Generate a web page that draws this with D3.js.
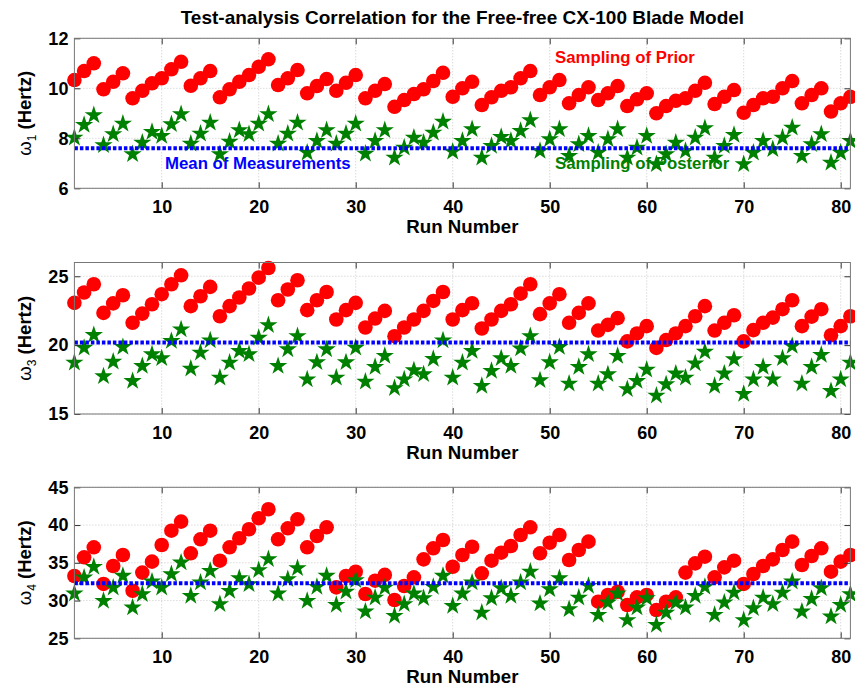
<!DOCTYPE html>
<html>
<head>
<meta charset="utf-8">
<script src="https://cdn.jsdelivr.net/npm/d3@7"></script>
<style>
  html, body { margin: 0; padding: 0; background: #fff; }
  svg { display: block; font-family: "Liberation Sans", Arial, sans-serif; }
</style>
</head>
<body>
<svg id="chart" width="855" height="689"></svg>
<script>
// Run numbers of the 81-run sampling study
const runs = d3.range(1, 82);

// First natural frequency (Hz)
const prior1 = [10.33,10.69,11.0, 9.96,10.26,10.6, 9.6,9.9,10.2, 10.4,10.76,11.06, 10.1,10.4,10.69, 9.64,9.96,10.26, 10.53,10.86,11.16, 10.13,10.4,10.73, 9.8,10.09,10.37, 9.9,10.22,10.53, 9.6,9.9,10.17, 9.26,9.53,9.77, 9.96,10.29,10.62, 9.66,10.0,10.26, 9.33,9.64,9.9, 10.04,10.4,10.69, 9.73,10.04,10.33, 9.4,9.73,10.04, 9.53,9.8,10.09, 9.29,9.56,9.8, 9.0,9.29,9.5, 9.6,9.9,10.22, 9.37,9.66,9.93, 9.02,9.33,9.6, 9.66,10.0,10.29, 9.4,9.73,10.0, 9.07,9.4,9.66];
const post1 = [8.06,8.57,8.96, 7.76,8.2,8.62, 7.4,7.86,8.29, 8.13,8.6,9.0, 7.82,8.22,8.66, 7.4,7.9,8.36, 8.2,8.62,9.0, 7.82,8.22,8.66, 7.46,7.93,8.36, 7.82,8.22,8.62, 7.42,7.93,8.36, 7.26,7.66,8.06, 7.86,8.26,8.7, 7.5,7.93,8.4, 7.26,7.73,8.09, 7.93,8.33,8.76, 7.53,8.0,8.4, 7.33,7.8,8.13, 7.46,8.0,8.4, 7.26,7.66,8.13, 7.0,7.4,7.86, 7.53,8.06,8.44, 7.26,7.73,8.17, 7.0,7.46,7.93, 7.6,8.06,8.46, 7.33,7.8,8.2, 7.06,7.46,7.93];
const mean1 = 7.6;

// Third natural frequency (Hz)
const prior3 = [23.07,23.82,24.42, 22.34,23.03,23.62, 21.62,22.29,22.97, 23.7,24.42,25.07, 22.83,23.55,24.23, 22.1,22.83,23.46, 24.11,24.9,25.6, 23.26,24.04,24.71, 22.54,23.26,23.86, 21.86,22.54,23.07, 21.28,21.93,22.49, 20.65,21.28,21.86, 22.49,23.21,23.86, 21.86,22.54,23.04, 21.21,21.86,22.49, 22.97,23.74,24.42, 22.25,23.03,23.7, 21.62,22.34,23.03, 21.06,21.47,21.96, 20.27,20.85,21.38, 19.8,20.37,20.85, 21.38,22.1,22.83, 21.06,21.62,22.17, 20.27,21.09,21.62, 22.0,22.61,23.26, 21.38,22.07,22.61, 20.72,21.38,22.1];
const post3 = [18.79,19.87,20.8, 17.8,18.86,19.93, 17.46,18.55,19.4, 19.11,20.36,21.21, 18.36,19.52,20.41, 17.7,18.79,19.64, 19.4,20.6,21.52, 18.55,19.76,20.72, 17.58,18.82,19.76, 17.7,18.82,19.87, 17.41,18.48,19.28, 16.94,17.58,18.24, 17.95,19.06,20.41, 17.7,18.79,19.64, 17.1,18.19,19.11, 18.55,19.82,20.72, 17.51,18.82,19.93, 17.27,18.48,19.4, 17.27,17.95,19.28, 16.87,17.46,18.28, 16.4,17.22,18.0, 17.7,18.74,19.58, 17.1,18.0,19.04, 16.52,17.58,18.48, 17.58,19.11,20.0, 17.27,18.48,19.35, 16.73,17.58,18.79];
const mean3 = 20.2;

// Fourth natural frequency (Hz)
const prior4 = [33.25,35.73,37.05, 32.2,34.58,36.03, 31.3,33.7,35.15, 37.36,39.25,40.45, 36.26,38.11,39.25, 35.28,37.05,38.25, 39.44,40.9,42.09, 38.11,39.57,40.76, 37.05,38.55,39.7, 31.75,33.25,33.82, 30.87,32.63,33.4, 30.07,31.93,33.08, 35.46,36.92,38.02, 34.48,36.03,37.13, 33.61,35.28,36.34, 37.23,38.68,39.7, 36.26,37.66,38.68, 35.37,36.7,37.8, 29.85,30.74,31.17, 29.41,30.43,30.74, 28.75,29.85,30.43, 33.7,34.93,35.81, 33.08,34.4,35.28, 32.2,33.52,34.58, 35.46,36.7,37.8, 34.71,35.9,36.92, 33.82,35.15,36.03];
const post4 = [31.04,33.16,34.58, 30.07,31.83,33.4, 29.19,30.96,32.63, 31.83,33.61,35.15, 30.74,32.5,34.05, 29.64,31.4,33.08, 32.28,34.14,35.6, 31.04,32.95,34.4, 30.07,31.93,33.4, 29.54,31.3,32.81, 28.66,30.51,31.83, 28.09,29.64,31.04, 30.43,31.93,33.4, 29.41,31.04,32.5, 28.52,30.43,31.75, 30.74,32.5,33.95, 29.72,31.62,33.08, 28.97,30.51,32.06, 28.22,29.85,31.04, 27.52,29.19,30.43, 26.9,28.52,29.85, 29.19,30.74,31.93, 28.22,29.85,31.17, 27.52,29.1,30.51, 29.64,31.17,32.63, 28.66,30.33,31.75, 28.0,29.54,30.96];
const mean4 = 32.3;

// Axis ticks
const xTicks = [10, 20, 30, 40, 50, 60, 70, 80];
const yTicks1 = [6, 8, 10, 12];
const yTicks3 = [15, 20, 25];
const yTicks4 = [25, 30, 35, 40, 45];

const titleText = "Test-analysis Correlation for the Free-free CX-100 Blade Model";
const xLabel = "Run Number";
const priorLabel = "Sampling of Prior";
const postLabel = "Sampling of Posterior";
const meanLabel = "Mean of Measurements";

const panels = [
  { sub: "1", prior: prior1, post: post1, mean: mean1, domain: [6, 12], ticks: yTicks1, top: 38.3, height: 150, legend: true },
  { sub: "3", prior: prior3, post: post3, mean: mean3, domain: [15, 26], ticks: yTicks3, top: 262.5, height: 151.5, legend: false },
  { sub: "4", prior: prior4, post: post4, mean: mean4, domain: [25, 45], ticks: yTicks4, top: 487.3, height: 151, legend: false }
];

const left = 74.4, right = 850.4;
const RED = "#ff0000", GREEN = "#008000", BLUE = "#0000ff";
const FONT = "'Liberation Sans', Arial, sans-serif";
const svg = d3.select("#chart");

const x = d3.scaleLinear().domain([1, 81]).range([left, right]);
const star = d3.symbol().type(d3.symbolStar).size(104);

svg.append("text")
  .attr("x", (left + right) / 2).attr("y", 23.5)
  .attr("text-anchor", "middle")
  .attr("font-size", 19).attr("font-weight", "bold")
  .attr("fill", "#000")
  .text(titleText);

panels.forEach(p => {
  const bottom = p.top + p.height;
  const y = d3.scaleLinear().domain(p.domain).range([bottom, p.top]);
  const g = svg.append("g");

  // dotted grid
  const grid = g.append("g").attr("stroke", "#c8c8c8").attr("stroke-width", 1)
    .attr("stroke-dasharray", "1,2");
  grid.selectAll("line.v").data(xTicks).join("line")
    .attr("x1", d => x(d)).attr("x2", d => x(d))
    .attr("y1", p.top).attr("y2", bottom);
  grid.selectAll("line.h").data(p.ticks).join("line")
    .attr("x1", left).attr("x2", right)
    .attr("y1", d => y(d)).attr("y2", d => y(d));

  // annotations (drawn beneath the markers)
  if (p.legend) {
    g.append("text").attr("x", 555).attr("y", 62.5)
      .attr("font-size", 16.8).attr("font-weight", "bold").attr("fill", RED)
      .text(priorLabel);
    g.append("text").attr("x", 555).attr("y", 169)
      .attr("font-size", 16.8).attr("font-weight", "bold").attr("fill", GREEN)
      .text(postLabel);
    g.append("text").attr("x", 165).attr("y", 169)
      .attr("font-size", 16.8).attr("font-weight", "bold").attr("fill", BLUE)
      .text(meanLabel);
  }

  // prior samples
  g.append("g").selectAll("circle").data(runs).join("circle")
    .attr("cx", d => x(d)).attr("cy", (d, i) => y(p.prior[i]))
    .attr("r", 7.3).attr("fill", RED);

  // posterior samples
  g.append("g").selectAll("path").data(runs).join("path")
    .attr("d", star)
    .attr("transform", (d, i) => `translate(${x(d)},${y(p.post[i]) + 0.9})`)
    .attr("fill", GREEN);

  // measured mean
  g.append("line")
    .attr("x1", left).attr("x2", right)
    .attr("y1", y(p.mean)).attr("y2", y(p.mean))
    .attr("stroke", BLUE).attr("stroke-width", 4)
    .attr("stroke-dasharray", "3.5,2");

  // axes: ticks point inward on all four sides
  const ax = g.append("g");
  ax.append("g").attr("transform", `translate(0,${bottom})`)
    .call(d3.axisBottom(x).tickValues(xTicks).tickSize(-6).tickPadding(12).tickFormat(d3.format("d")));
  ax.append("g").attr("transform", `translate(0,${p.top})`)
    .call(d3.axisTop(x).tickValues(xTicks).tickSize(-6).tickFormat(""));
  ax.append("g").attr("transform", `translate(${left},0)`)
    .call(d3.axisLeft(y).tickValues(p.ticks).tickSize(-6).tickPadding(6).tickFormat(d3.format("d")));
  ax.append("g").attr("transform", `translate(${right},0)`)
    .call(d3.axisRight(y).tickValues(p.ticks).tickSize(-6).tickFormat(""));
  ax.selectAll(".domain").remove();
  ax.selectAll("g").attr("font-size", 18).attr("font-family", FONT).attr("font-weight", "bold");
  ax.selectAll(".tick line").attr("stroke", "#333");
  ax.selectAll(".tick text").attr("fill", "#000");

  g.append("rect")
    .attr("x", left).attr("y", p.top)
    .attr("width", right - left).attr("height", p.height)
    .attr("fill", "none").attr("stroke", "#777").attr("stroke-width", 1);

  // axis titles
  g.append("text")
    .attr("x", (left + right) / 2).attr("y", bottom + 45)
    .attr("text-anchor", "middle")
    .attr("font-size", 18.7).attr("font-weight", "bold").attr("fill", "#000")
    .text(xLabel);

  const yl = g.append("text")
    .attr("transform", `translate(31,${p.top + p.height / 2}) rotate(-90)`)
    .attr("text-anchor", "middle")
    .attr("font-size", 18.5).attr("fill", "#000");
  yl.append("tspan").attr("font-weight", "normal").text("\u03c9");
  yl.append("tspan").attr("font-size", 12).attr("dy", 5).text(p.sub);
  yl.append("tspan").attr("font-weight", "bold").attr("dy", -5).text(" (Hertz)");
});
</script>
</body>
</html>
